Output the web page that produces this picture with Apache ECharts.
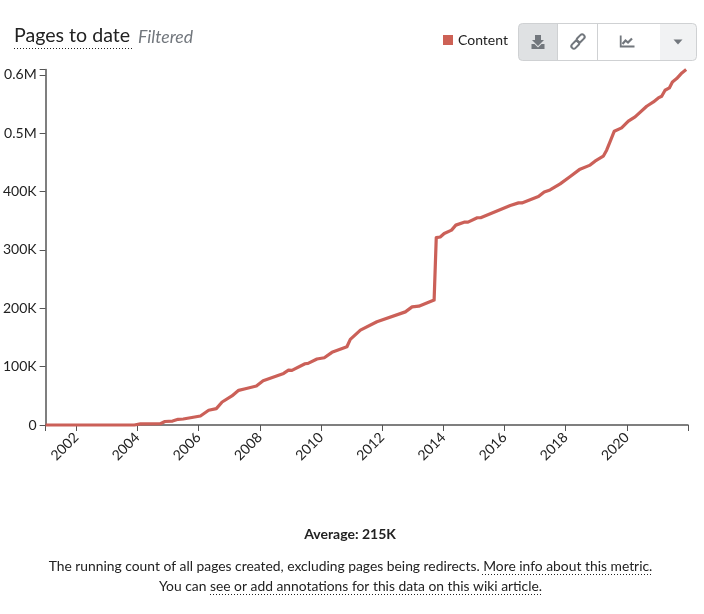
<!DOCTYPE html>
<html>
<head>
<meta charset="utf-8">
<style>html,body{margin:0;padding:0;background:#fff}#c{width:704px;height:614px}</style>
<script src="https://cdn.jsdelivr.net/npm/echarts@6/dist/echarts.min.js"></script>
</head>
<body>
<div id="c"></div>
<script>
const years = [2001,2003.9,2004.1,2004.75,2004.9,2005.15,2005.33,2005.5,2006.06,2006.33,2006.58,2006.77,2007.09,2007.31,2007.53,2007.89,2008.11,2008.78,2008.94,2009.05,2009.48,2009.58,2009.87,2010.11,2010.36,2010.85,2010.96,2011.29,2011.83,2012.76,2012.98,2013.2,2013.7,2013.77,2013.9,2014.03,2014.27,2014.41,2014.68,2014.81,2015.11,2015.22,2016.19,2016.46,2016.57,2017.11,2017.3,2017.49,2017.82,2018.15,2018.47,2018.8,2018.96,2019.23,2019.34,2019.45,2019.59,2019.83,2020.05,2020.27,2020.65,2020.87,2021.03,2021.14,2021.25,2021.39,2021.49,2021.63,2021.8,2021.94];
const content = [0,0,2000,2200,6000,6800,9800,10300,15400,25200,28000,39400,49700,59400,62200,66800,75800,88400,94100,93600,104900,105600,113000,115200,124500,134000,146700,162600,176800,193800,202400,203600,214000,321000,322000,328000,333800,342400,347500,347500,355000,355000,376000,380500,380500,391300,399300,402700,413000,425600,438300,445200,452000,460500,470800,485000,503300,509000,520400,527800,546000,553400,560300,563200,573500,577400,587700,593500,603200,609000];
const xTickLabels = [2002,2004,2006,2008,2010,2012,2014,2016,2018,2020];
const xTicks = [2001].concat(xTickLabels, [2022]);
const yTickValues = [0,100000,200000,300000,400000,500000,600000];
const yTickText = ['0','100K','200K','300K','400K','0.5M','0.6M'];
const yTop = 609000;

const FONT = 'Lato, "Open Sans", sans-serif';
const TXT = '#222';
const ICON = '#72777d';
const BORDER = '#cfd1d3';

function text(x, y, t, size, opts) {
  return {type:'text', silent:true, x:x, y:y, style:Object.assign({text:t, fontFamily:FONT, fontSize:size, fill:TXT, align:'left', verticalAlign:'middle'}, opts||{})};
}
function dotted(x1, x2, y) {
  return {type:'line', silent:true, shape:{x1:x1,y1:y,x2:x2,y2:y}, style:{stroke:'#222', lineWidth:1, lineDash:[1,2]}};
}
function rect(x,y,w,h,fill,r) {
  return {type:'rect', silent:true, shape:{x:x,y:y,width:w,height:h,r:r||0}, style:{fill:fill, stroke:null}};
}
function poly(points, fill) {
  return {type:'polygon', silent:true, shape:{points:points}, style:{fill:fill, stroke:null}};
}
function pline(points, w) {
  return {type:'polyline', silent:true, shape:{points:points}, style:{fill:'none', stroke:ICON, lineWidth:w}};
}
function chain(cx, cy) {
  return {type:'rect', silent:true, x:cx, y:cy, rotation:Math.PI/4, shape:{x:-4.5,y:-2.5,width:9,height:5,r:2.5}, style:{fill:'none', stroke:ICON, lineWidth:2}};
}

const graphic = [
  text(14, 36, 'Pages to date', 19.6),
  dotted(14, 132, 48.5),
  text(138, 37, 'Filtered', 17.6, {fontStyle:'italic', fill:'#72777d'}),

  // button group
  rect(518.5,23.5,178,37,'#fff',4),
  rect(518.5,23.5,39,37,'#dfe1e3',[4,0,0,4]),
  rect(660,23.5,36.5,37,'#f1f2f3',[0,4,4,0]),
  {type:'rect', silent:true, shape:{x:518.5,y:23.5,width:178,height:37,r:4}, style:{fill:'none', stroke:BORDER, lineWidth:1}},
  {type:'line', silent:true, shape:{x1:557.5,y1:24,x2:557.5,y2:60}, style:{stroke:BORDER,lineWidth:1}},
  {type:'line', silent:true, shape:{x1:597.5,y1:24,x2:597.5,y2:60}, style:{stroke:BORDER,lineWidth:1}},
  // download icon
  poly([[535,35],[541,35],[541,40],[544,40],[538,46],[532,40],[535,40]], ICON),
  poly([[531.5,44],[534.5,44],[538,47.5],[541.5,44],[544.5,44],[544.5,49],[531.5,49]], ICON),
  // link icon
  chain(580.7,38.3),
  chain(575.3,44.7),
  // chart icon
  pline([[620.7,35.5],[620.7,46.5],[634.5,46.5]], 1.8),
  pline([[622.5,44],[625.5,40.5],[628,42.5],[632,38.5]], 2.2),
  // caret
  poly([[673.5,39.5],[682.5,39.5],[678,44.5]], ICON),

  // footer
  text(350, 534, 'Average: 215K', 14, {fontWeight:'bold', align:'center', fill:'#222'}),
  text(350.5, 567, 'The running count of all pages created, excluding pages being redirects. More info about this metric.', 13.85, {align:'center'}),
  dotted(482, 652, 574.5),
  text(350.5, 587, 'You can see or add annotations for this data on this wiki article.', 13.85, {align:'center'}),
  dotted(210, 541, 594.5)
];

const chart = echarts.init(document.getElementById('c'), null, {renderer:'canvas'});
chart.setOption({
  animation:false,
  backgroundColor:'#fff',
  textStyle:{fontFamily:FONT},
  grid:{left:45, right:16, top:69.5, bottom:189, containLabel:false},
  legend:{
    show:true, left:438, top:28, icon:'rect', itemWidth:10, itemHeight:10, itemGap:5,
    textStyle:{fontFamily:FONT, fontSize:14, color:TXT},
    data:[{name:'Content', itemStyle:{color:'#cd6155'}}]
  },
  xAxis:{
    type:'value', min:2001, max:2022, splitLine:{show:false},
    axisLine:{show:true, lineStyle:{color:'#555', width:1.5}},
    axisTick:{show:true, length:6, customValues:xTicks, lineStyle:{color:'#555', width:1}},
    axisLabel:{show:true, rotate:45, margin:10, fontFamily:FONT, fontSize:14, color:TXT,
      customValues:xTickLabels, formatter:function(v){return String(v);}}
  },
  yAxis:{
    type:'value', min:0, max:yTop, splitLine:{show:false},
    axisLine:{show:true, onZero:false, lineStyle:{color:'#555', width:1.5}},
    axisTick:{show:true, length:6, customValues:yTickValues.concat([yTop]), lineStyle:{color:'#555', width:1}},
    axisLabel:{show:true, margin:9, fontFamily:FONT, fontSize:14, color:TXT,
      customValues:yTickValues,
      formatter:function(v){return yTickText[yTickValues.indexOf(v)];}}
  },
  series:[{
    name:'Content', type:'line', symbol:'none', clip:false, smooth:false,
    itemStyle:{color:'#cd6155'},
    lineStyle:{color:'#cb6058', width:3.2, join:'round'},
    data:years.map(function(y,i){return [y, content[i]];})
  }],
  graphic:graphic
});
</script>
</body>
</html>
